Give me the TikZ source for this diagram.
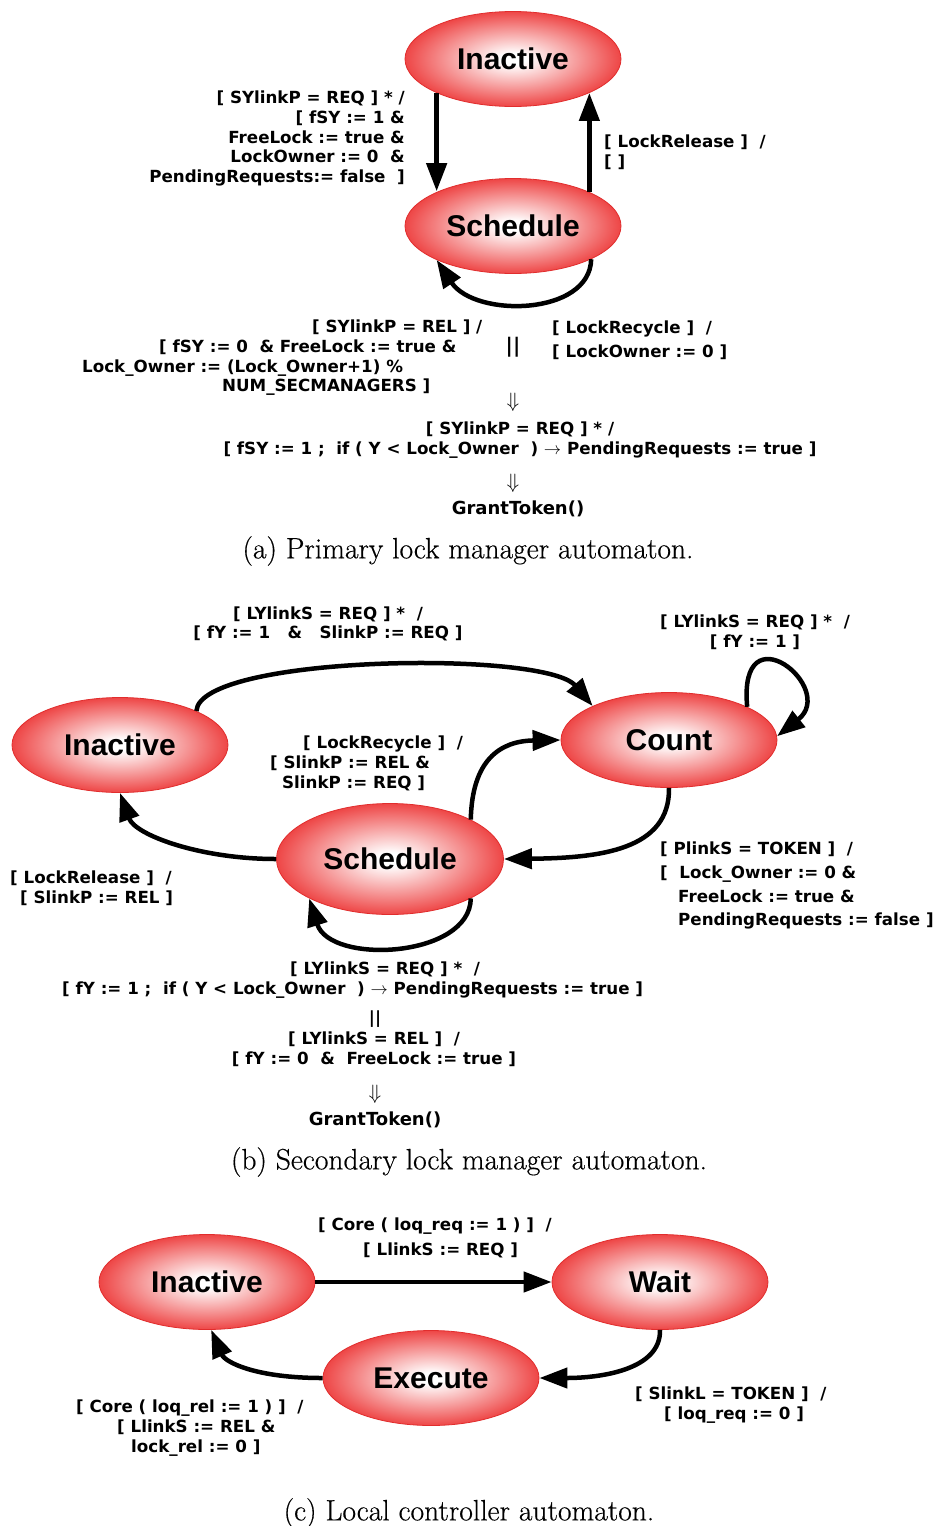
\documentclass[tikz,border=0pt]{standalone}
\usepackage{fontspec}
\usetikzlibrary{shapes.geometric,arrows.meta}
\newfontfamily\labf{DejaVu Sans}
\newfontfamily\statef{Liberation Sans}
\newfontfamily\capf{Latin Modern Roman}[FakeBold=0.4]
\definecolor{edgecol}{RGB}{238,70,70}
\definecolor{rimcol}{RGB}{225,45,45}
\pgfdeclareradialshading{stshade}{\pgfpoint{0bp}{0bp}}{color(0bp)=(white); color(3bp)=(white); color(25bp)=(edgecol); color(50bp)=(edgecol)}
\tikzset{
 lab/.style={font=\labf\bfseries\fontsize{16.7}{19.7}\selectfont, inner sep=0pt},
 bigarr/.style={font=\fontsize{22}{22}\selectfont, inner sep=0pt},
 grant/.style={font=\labf\bfseries\fontsize{18}{20}\selectfont, inner sep=0pt},
 state/.style={ellipse, shade, shading=stshade, draw=rimcol, line width=0.8pt, inner sep=0pt, minimum width=216pt, minimum height=95pt, font=\statef\bfseries\fontsize{30}{36}\selectfont},
 conn/.style={line width=4.5pt, -{Triangle[length=28pt,width=20pt]}},
 captxt/.style={font=\capf\fontsize{29.5}{32}\selectfont, inner sep=0pt},
}
\begin{document}
\begin{tikzpicture}[x=1pt,y=-1pt]
\useasboundingbox (0,0) rectangle (935,1526);
\fill[white] (0,0) rectangle (935,1526);
% ---------------- (a)
\node[state] (inA) at (513,59) {Inactive};
\node[state] (schA) at (513,226) {Schedule};
\draw[conn] (inA.204) -- (inA.204 |- schA.155);
\draw[conn] (schA.24) -- (schA.24 |- inA.336);
\draw[conn] (schA.337) .. controls (590,316) and (475,318) .. (schA.204);
\node[lab, anchor=north east, align=right] (la1) at (405,91) {[ SYlinkP = REQ ] * /\\ {[} fSY := 1 \&\\ FreeLock := true \&\\ LockOwner := 0 ~\&\\ PendingRequests:= false ~]};
\node[lab, anchor=north west, align=left] (la2) at (604,135) {[ LockRelease ] ~/\\ {[} ]};
\node[lab, anchor=north west, align=left] (la3) at (82,320) {\hspace*{230pt}[ SYlinkP = REL ] /\\ \hspace*{77pt}[ fSY := 0 ~\& FreeLock := true \&\\ Lock\_Owner := (Lock\_Owner+1) \%\\ \hspace*{140pt}NUM\_SECMANAGERS ]};
\node[font=\labf\bfseries\fontsize{20}{24}\selectfont, inner sep=0pt] (par1) at (513,347) {||};
\node[lab, anchor=north west, align=left] (la4) at (552,321) {[ LockRecycle ] ~/\\[4pt] {[} LockOwner := 0 ]};
\node[bigarr] (dn1) at (513,402) {$\Downarrow$};
\node[lab, align=center] (la5) at (520,440) {[ SYlinkP = REQ ] * /\\ {[} fSY := 1 ; ~if ( Y < Lock\_Owner ~) $\rightarrow$ PendingRequests := true ]};
\node[bigarr] (dn2) at (513,483) {$\Downarrow$};
\node[grant] (gt1) at (518,509) {GrantToken()};
\node[captxt] (capA) at (468,551) {(a) Primary lock manager automaton.};
% ---------------- (b)
\node[state] (inB) at (120,745) {Inactive};
\node[state] (cntB) at (669,740) {Count};
\node[state, minimum width=227pt, minimum height=111pt] (schB) at (390,859) {Schedule};
\draw[conn] (inB.24) .. controls (200,655) and (545,650) .. (cntB.156);
\draw[conn] (cntB.23) .. controls (738,608) and (838,688) .. (cntB.2);
\draw[conn] (schB.26) .. controls (472,760) and (500,741) .. (cntB.180);
\draw[conn] (cntB.270) .. controls (670,850) and (600,858) .. (schB.0);
\draw[conn] (schB.180) .. controls (200,859) and (135,835) .. (inB.270);
\draw[conn] (schB.334) .. controls (470,958) and (330,965) .. (schB.206);
\node[lab, align=center] (lb1) at (328,624) {[ LYlinkS = REQ ] * ~/\\ {[} fY := 1 ~~\& ~~SlinkP := REQ ]};
\node[lab, align=center] (lb2) at (755,632) {[ LYlinkS = REQ ] * ~/\\ {[} fY := 1 ]};
\node[lab, anchor=north west, align=left] (lb3) at (270,736) {\hspace*{33pt}[ LockRecycle ] ~/\\ {[} SlinkP := REL \&\\ \hspace*{12pt}SlinkP := REQ ]};
\node[lab, anchor=north west, align=left] (lb4) at (10,871) {[ LockRelease ] ~/\\ \hspace*{10pt}[ SlinkP := REL ]};
\node[lab, anchor=north west, align=left] (lb5) at (660,842) {[ PlinkS = TOKEN ] ~/\\[4pt] {[} ~Lock\_Owner := 0 \&\\[4pt] \hspace*{18pt}FreeLock := true \&\\[4pt] \hspace*{18pt}PendingRequests := false ]};
\node[lab, anchor=north west, align=left] (lb6) at (62,962) {\hspace*{228pt}[ LYlinkS = REQ ] * ~/\\ {[} fY := 1 ; ~if ( Y < Lock\_Owner ~) $\rightarrow$ PendingRequests := true ]};
\node[lab] (par2) at (375,1019) {||};
\node[lab, align=center] (lb7) at (374,1049) {[ LYlinkS = REL ] ~/\\ {[} fY := 0 ~\& ~FreeLock := true ]};
\node[bigarr] (dn3) at (375,1094) {$\Downarrow$};
\node[grant] (gt2) at (375,1120) {GrantToken()};
\node[captxt] (capB) at (469,1162) {(b) Secondary lock manager automaton.};
% ---------------- (c)
\node[state] (inC) at (207,1282) {Inactive};
\node[state] (waitC) at (660,1282) {Wait};
\node[state] (exC) at (431,1378) {Execute};
\draw[conn] (inC) -- (waitC);
\draw[conn] (waitC.270) .. controls (661,1370) and (600,1378) .. (exC.0);
\draw[conn] (exC.180) .. controls (255,1378) and (225,1362) .. (inC.275);
\node[lab, anchor=north west, align=left] (lc1) at (318,1218) {[ Core ( loq\_req := 1 ) ] ~/\\[5pt] \hspace*{45pt}[ LlinkS := REQ ]};
\node[lab, anchor=north west, align=left] (lc2) at (635,1387) {[ SlinkL = TOKEN ] ~/\\ \hspace*{29pt}[ loq\_req := 0 ]};
\node[lab, anchor=north west, align=left] (lc3) at (76,1400) {[ Core ( loq\_rel := 1 ) ] ~/\\ \hspace*{41pt}[ LlinkS := REL \&\\ \hspace*{55pt}lock\_rel := 0 ]};
\node[captxt] (capC) at (469,1513) {(c) Local controller automaton.};
\end{tikzpicture}
\end{document}
